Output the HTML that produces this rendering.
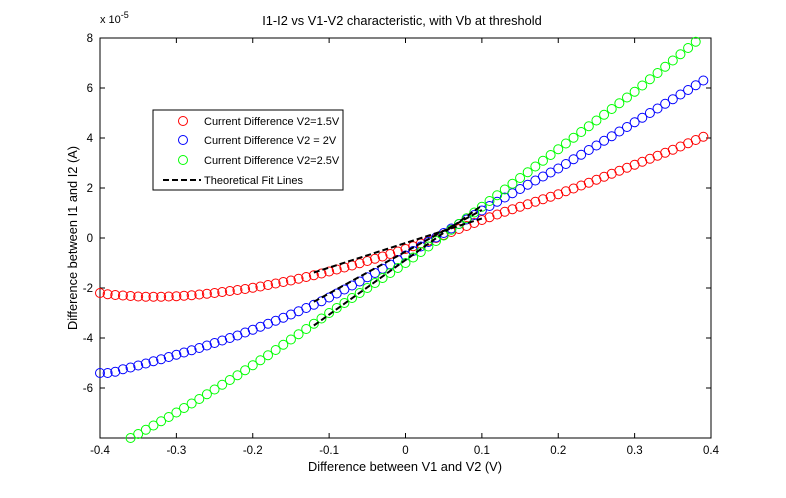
<!DOCTYPE html>
<html><head><meta charset="utf-8"><style>
body{margin:0;background:#fff;}
svg text{font-family:"Liberation Sans",Arial,sans-serif;font-size:11px;fill:#000;}
svg text.big{font-size:12.8px;}
svg text.tick{font-size:11.5px;}
</style></head><body>
<svg id="chart" width="786" height="493" xmlns="http://www.w3.org/2000/svg">
<rect x="0" y="0" width="786" height="493" fill="#fff"/>
<rect x="100" y="38" width="611" height="400" fill="#fff" stroke="#000" stroke-width="1"/>
<g id="axes"></g>
<g id="marks"></g>
<text class="big" x="402" y="25" text-anchor="middle">I1-I2 vs V1-V2 characteristic, with Vb at threshold</text>
<text x="100" y="23">x 10<tspan dy="-5" font-size="9">-5</tspan></text>
<text class="big" x="405" y="471" text-anchor="middle">Difference between V1 and V2 (V)</text>
<text class="big" transform="translate(77,238) rotate(-90)" text-anchor="middle">Difference between I1 and I2 (A)</text>
<g>
<rect x="153" y="110" width="190" height="80" fill="#fff" stroke="#000"/>
<circle cx="183" cy="121" r="4.5" fill="none" stroke="#f00"/>
<text x="204" y="125">Current Difference V2=1.5V</text>
<circle cx="183" cy="140" r="4.5" fill="none" stroke="#00f"/>
<text x="204" y="144">Current Difference V2 = 2V</text>
<circle cx="183" cy="160" r="4.5" fill="none" stroke="#0f0"/>
<text x="204" y="164">Current Difference V2=2.5V</text>
<line x1="163" y1="180" x2="201" y2="180" stroke="#000" stroke-width="2" stroke-dasharray="6,3"/>
<text x="204" y="184">Theoretical Fit Lines</text>
</g>
</svg>
<script>
const xTicks=[-0.4,-0.3,-0.2,-0.1,0,0.1,0.2,0.3,0.4];
const yTicks=[-6,-4,-2,0,2,4,6,8];
const redStart=-0.40;
const redY=[-2.20,-2.25,-2.28,-2.30,-2.32,-2.34,-2.35,-2.35,-2.35,-2.34,-2.33,-2.31,-2.29,-2.26,-2.23,-2.20,-2.16,-2.12,-2.08,-2.04,-1.99,-1.94,-1.88,-1.82,-1.76,-1.70,-1.63,-1.56,-1.49,-1.42,-1.34,-1.26,-1.18,-1.10,-1.01,-0.92,-0.83,-0.74,-0.64,-0.54,-0.44,-0.33,-0.22,-0.11,0.0,0.12,0.24,0.36,0.48,0.60,0.72,0.83,0.94,1.05,1.15,1.25,1.35,1.45,1.55,1.65,1.75,1.87,1.98,2.10,2.21,2.33,2.45,2.57,2.69,2.81,2.93,3.05,3.17,3.29,3.41,3.53,3.66,3.79,3.92,4.05];
const blueStart=-0.40;
const blueY=[-5.40,-5.40,-5.35,-5.25,-5.18,-5.10,-5.02,-4.93,-4.85,-4.76,-4.67,-4.58,-4.49,-4.40,-4.30,-4.20,-4.10,-4.00,-3.90,-3.78,-3.67,-3.55,-3.43,-3.31,-3.19,-3.06,-2.93,-2.80,-2.67,-2.53,-2.38,-2.22,-2.06,-1.90,-1.74,-1.57,-1.40,-1.23,-1.06,-0.88,-0.70,-0.52,-0.34,-0.16,0.02,0.20,0.38,0.56,0.74,0.92,1.10,1.28,1.45,1.62,1.79,1.96,2.13,2.30,2.46,2.62,2.78,2.96,3.15,3.33,3.52,3.70,3.89,4.07,4.26,4.44,4.63,4.81,5.00,5.18,5.37,5.55,5.74,5.92,6.11,6.30];
const greenStart=-0.36;
const greenY=[-8.00,-7.84,-7.67,-7.50,-7.33,-7.16,-6.98,-6.80,-6.62,-6.44,-6.25,-6.06,-5.87,-5.68,-5.49,-5.29,-5.09,-4.89,-4.69,-4.48,-4.27,-4.06,-3.85,-3.64,-3.43,-3.22,-3.00,-2.80,-2.60,-2.40,-2.20,-2.00,-1.80,-1.60,-1.40,-1.20,-1.00,-0.78,-0.56,-0.34,-0.12,0.10,0.33,0.56,0.79,1.02,1.25,1.48,1.71,1.94,2.17,2.40,2.63,2.86,3.09,3.32,3.55,3.78,4.01,4.24,4.47,4.70,4.93,5.16,5.39,5.62,5.85,6.10,6.35,6.60,6.85,7.10,7.35,7.60,7.85];
const fitX=[-0.12,0.10];
const fitRed=[-1.38,0.78];
const fitBlue=[-2.55,1.12];
const fitGreen=[-3.50,1.30];

const NS='http://www.w3.org/2000/svg';
const X0=100,X1=711,Y0=438,Y1=38;
function sx(v){return X0+(v+0.4)/0.8*(X1-X0);}
function sy(v){return Y0-(v+8)/16*(Y0-Y1);}
const axes=document.getElementById('axes'),marks=document.getElementById('marks');
function mk(tag,attrs,parent){const e=document.createElementNS(NS,tag);for(const k in attrs)e.setAttribute(k,attrs[k]);parent.appendChild(e);return e;}
xTicks.forEach(t=>{
  const x=sx(t);
  const l=mk('line',{x1:x,x2:x,y1:Y0,y2:Y0-5,stroke:'#000'},axes);
  
  
  mk('line',{x1:x,x2:x,y1:Y1,y2:Y1+5,stroke:'#000'},axes);
  const tx=mk('text',{x:x,y:Y0+16,'text-anchor':'middle','class':'tick'},axes);
  tx.textContent=String(t);
  
  
});
yTicks.forEach(t=>{
  const y=sy(t);
  const l=mk('line',{x1:X0,x2:X0+5,y1:y,y2:y,stroke:'#000'},axes);
  
  
  mk('line',{x1:X1,x2:X1-5,y1:y,y2:y,stroke:'#000'},axes);
  const tx=mk('text',{x:X0-7,y:y+4,'text-anchor':'end','class':'tick'},axes);
  tx.textContent=String(t);
  
  
});
function series(start,vals,color,name){
  const g=mk('g',{},marks);
  
  
  vals.forEach((v,i)=>{
    const c=mk('circle',{cx:sx(start+i*0.01),cy:sy(v),r:4.5,fill:'none',stroke:color,'stroke-width':1},g);
    
    
  });
}
series(redStart,redY,'#f00','series-1-5v');
series(blueStart,blueY,'#00f','series-2v');
series(greenStart,greenY,'#0f0','series-2-5v');
[fitRed,fitBlue,fitGreen].forEach(f=>{
  const l=mk('line',{x1:sx(fitX[0]),y1:sy(f[0]),x2:sx(fitX[1]),y2:sy(f[1]),stroke:'#000','stroke-width':2,'stroke-dasharray':'6,3'},marks);
  
  
});
</script>
</body></html>
